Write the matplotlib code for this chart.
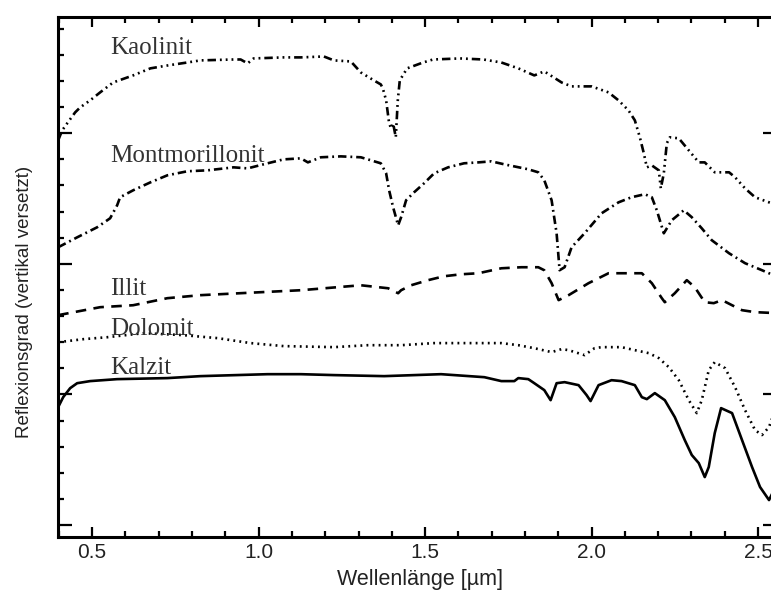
import matplotlib
matplotlib.use("Agg")
import matplotlib.pyplot as plt
from matplotlib.ticker import MultipleLocator, FormatStrFormatter

# ---- data (wavelength in µm, offset reflectance in arbitrary units) ----
kaolinit_x = [0.398, 0.410, 0.425, 0.449, 0.464, 0.494, 0.524, 0.563, 0.623, 0.675, 0.726, 0.786,
              0.825, 0.925, 0.946, 0.967, 0.985, 1.075, 1.127, 1.196, 1.226, 1.277, 1.307, 1.346,
              1.367, 1.373, 1.383, 1.392, 1.398, 1.404, 1.412, 1.418, 1.424, 1.446, 1.494, 1.524,
              1.605, 1.675, 1.729, 1.780, 1.828, 1.858, 1.910, 1.940, 2.000, 2.051, 2.081, 2.111,
              2.130, 2.145, 2.157, 2.166, 2.181, 2.202, 2.208, 2.217, 2.226, 2.235, 2.262, 2.292,
              2.322, 2.340, 2.370, 2.413, 2.431, 2.461, 2.491, 2.533, 2.560]
kaolinit_y = [2.946, 3.022, 3.076, 3.160, 3.198, 3.252, 3.313, 3.389, 3.443, 3.497, 3.519, 3.542,
              3.558, 3.565, 3.565, 3.535, 3.573, 3.581, 3.581, 3.588, 3.558, 3.550, 3.466, 3.405,
              3.374, 3.344, 3.252, 3.076, 3.037, 3.076, 2.969, 3.252, 3.405, 3.497, 3.542, 3.565,
              3.573, 3.565, 3.542, 3.497, 3.443, 3.474, 3.389, 3.359, 3.359, 3.313, 3.252, 3.175,
              3.099, 2.969, 2.846, 2.739, 2.754, 2.716, 2.578, 2.693, 2.923, 2.969, 2.961, 2.869,
              2.777, 2.777, 2.701, 2.701, 2.663, 2.578, 2.510, 2.471, 2.448]

montmorillonit_x = [0.398, 0.455, 0.515, 0.554, 0.575, 0.584, 0.623, 0.675, 0.726, 0.786, 0.846,
                    0.925, 0.967, 1.027, 1.075, 1.127, 1.148, 1.187, 1.247, 1.307, 1.367, 1.383,
                    1.392, 1.404, 1.419, 1.428, 1.443, 1.467, 1.497, 1.527, 1.569, 1.617, 1.660,
                    1.699, 1.738, 1.810, 1.840, 1.858, 1.880, 1.895, 1.904, 1.919, 1.940, 1.979,
                    2.030, 2.081, 2.120, 2.160, 2.181, 2.196, 2.217, 2.241, 2.277, 2.301, 2.331,
                    2.361, 2.413, 2.461, 2.512, 2.560]
montmorillonit_y = [2.127, 2.203, 2.280, 2.349, 2.448, 2.510, 2.563, 2.624, 2.678, 2.709, 2.716,
                    2.739, 2.731, 2.770, 2.800, 2.808, 2.777, 2.816, 2.823, 2.816, 2.770, 2.693,
                    2.563, 2.433, 2.295, 2.357, 2.487, 2.548, 2.617, 2.693, 2.739, 2.770, 2.777,
                    2.785, 2.762, 2.724, 2.701, 2.640, 2.487, 2.234, 1.951, 1.974, 2.127, 2.234,
                    2.387, 2.471, 2.510, 2.533, 2.510, 2.410, 2.234, 2.334, 2.410, 2.357, 2.272,
                    2.181, 2.081, 2.005, 1.951, 1.898]

illit_x = [0.398, 0.524, 0.623, 0.726, 0.825, 1.127, 1.307, 1.389, 1.419, 1.428, 1.458, 1.509,
           1.557, 1.608, 1.660, 1.729, 1.789, 1.840, 1.858, 1.880, 1.901, 1.931, 1.991, 2.051,
           2.111, 2.151, 2.181, 2.211, 2.220, 2.250, 2.286, 2.310, 2.340, 2.367, 2.392, 2.422,
           2.452, 2.491, 2.560]
illit_y = [1.607, 1.668, 1.683, 1.737, 1.760, 1.798, 1.836, 1.813, 1.775, 1.798, 1.836, 1.875,
           1.905, 1.920, 1.928, 1.966, 1.974, 1.974, 1.951, 1.852, 1.722, 1.760, 1.852, 1.928,
           1.928, 1.928, 1.852, 1.737, 1.706, 1.775, 1.875, 1.821, 1.706, 1.699, 1.722, 1.683,
           1.645, 1.630, 1.622]

dolomit_x = [0.398, 0.473, 0.545, 0.654, 0.774, 0.877, 0.976, 1.075, 1.226, 1.328, 1.428, 1.527,
             1.630, 1.729, 1.780, 1.828, 1.880, 1.910, 1.931, 1.979, 2.009, 2.030, 2.090, 2.130,
             2.172, 2.202, 2.232, 2.262, 2.292, 2.316, 2.331, 2.352, 2.370, 2.401, 2.431, 2.461,
             2.491, 2.512, 2.533, 2.551]
dolomit_y = [1.400, 1.423, 1.438, 1.469, 1.454, 1.431, 1.393, 1.370, 1.362, 1.377, 1.377, 1.393,
             1.393, 1.393, 1.377, 1.354, 1.324, 1.347, 1.339, 1.301, 1.354, 1.362, 1.362, 1.339,
             1.316, 1.278, 1.209, 1.109, 0.956, 0.857, 0.956, 1.186, 1.247, 1.201, 1.056, 0.880,
             0.727, 0.689, 0.750, 0.880]

kalzit_x = [0.398, 0.413, 0.434, 0.455, 0.494, 0.575, 0.726, 0.825, 1.027, 1.127, 1.226, 1.377,
            1.548, 1.678, 1.729, 1.768, 1.780, 1.810, 1.828, 1.858, 1.877, 1.895, 1.919, 1.961,
            1.985, 1.997, 2.021, 2.060, 2.090, 2.130, 2.151, 2.166, 2.190, 2.220, 2.250, 2.280,
            2.301, 2.322, 2.340, 2.352, 2.370, 2.389, 2.422, 2.452, 2.482, 2.506, 2.533, 2.548]
kalzit_y = [0.903, 0.979, 1.048, 1.086, 1.102, 1.117, 1.125, 1.140, 1.155, 1.155, 1.148, 1.140,
            1.155, 1.132, 1.102, 1.102, 1.125, 1.117, 1.086, 1.033, 0.956, 1.086, 1.094, 1.071,
            0.995, 0.949, 1.071, 1.109, 1.102, 1.071, 0.979, 0.964, 1.010, 0.956, 0.826, 0.650,
            0.536, 0.474, 0.367, 0.444, 0.704, 0.895, 0.857, 0.650, 0.444, 0.291, 0.191, 0.268]

labels = ["Kaolinit", "Montmorillonit", "Illit", "Dolomit", "Kalzit"]
label_x = 0.554
label_y = [3.604, 2.777, 1.760, 1.454, 1.155]

x_ticks = [0.5, 1.0, 1.5, 2.0, 2.5]
xlabel = "Wellenlänge [µm]"
ylabel = "Reflexionsgrad (vertikal versetzt)"

# ---- figure ----
fig = plt.figure(figsize=(7.71, 5.90), dpi=100)
ax = fig.add_axes([0.0746, 0.0898, 1.0078 - 0.0746, 0.972 - 0.0898])

lw = 1.9
ax.plot(kaolinit_x, kaolinit_y, color="black", lw=lw,
        linestyle=(0, (3.2, 1.5, 0.7, 1.5, 0.7, 1.5, 0.7, 1.5)))
ax.plot(montmorillonit_x, montmorillonit_y, color="black", lw=lw,
        linestyle=(0, (3.2, 1.5, 0.7, 1.5)))
ax.plot(illit_x, illit_y, color="black", lw=lw, linestyle=(0, (4.0, 2.8)))
ax.plot(dolomit_x, dolomit_y, color="black", lw=lw, linestyle=(0, (0.7, 1.6)))
ax.plot(kalzit_x, kalzit_y, color="black", lw=lw, linestyle="-")

for lab, yy in zip(labels, label_y):
    ax.text(label_x, yy, lab, family="Liberation Serif", fontsize=18,
            color="#333333", va="baseline", ha="left")

ax.set_xlim(0.396, 2.557)
ax.set_ylim(-0.092, 3.894)

ax.set_xticks(x_ticks)
ax.xaxis.set_major_formatter(FormatStrFormatter("%.1f"))
ax.xaxis.set_minor_locator(MultipleLocator(0.1))
ax.yaxis.set_major_locator(MultipleLocator(1.0))
ax.yaxis.set_minor_locator(MultipleLocator(0.2))
ax.set_yticklabels([])

ax.tick_params(axis="x", which="both", direction="in", top=True, bottom=True,
               labelsize=15, pad=4, labelcolor="#222222")
ax.tick_params(axis="x", which="major", length=7.5, width=1.6)
ax.tick_params(axis="x", which="minor", length=4, width=1.6)
ax.tick_params(axis="y", which="both", direction="in", left=True, right=True)
ax.tick_params(axis="y", which="major", length=10, width=1.6)
ax.tick_params(axis="y", which="minor", length=4.3, width=1.6)
for lab in ax.get_xticklabels():
    lab.set_family("Liberation Sans")

for sp in ax.spines.values():
    sp.set_linewidth(2.2)

fig.text(420 / 771, 5 / 590, xlabel, family="Liberation Sans", fontsize=15.5,
         color="#222222", ha="center", va="baseline")
fig.text(25 / 771, 1 - 302 / 590, ylabel, family="Liberation Sans",
         fontsize=13.5, color="#222222", ha="center", va="center", rotation=90)

fig.savefig("out.png", dpi=100)
